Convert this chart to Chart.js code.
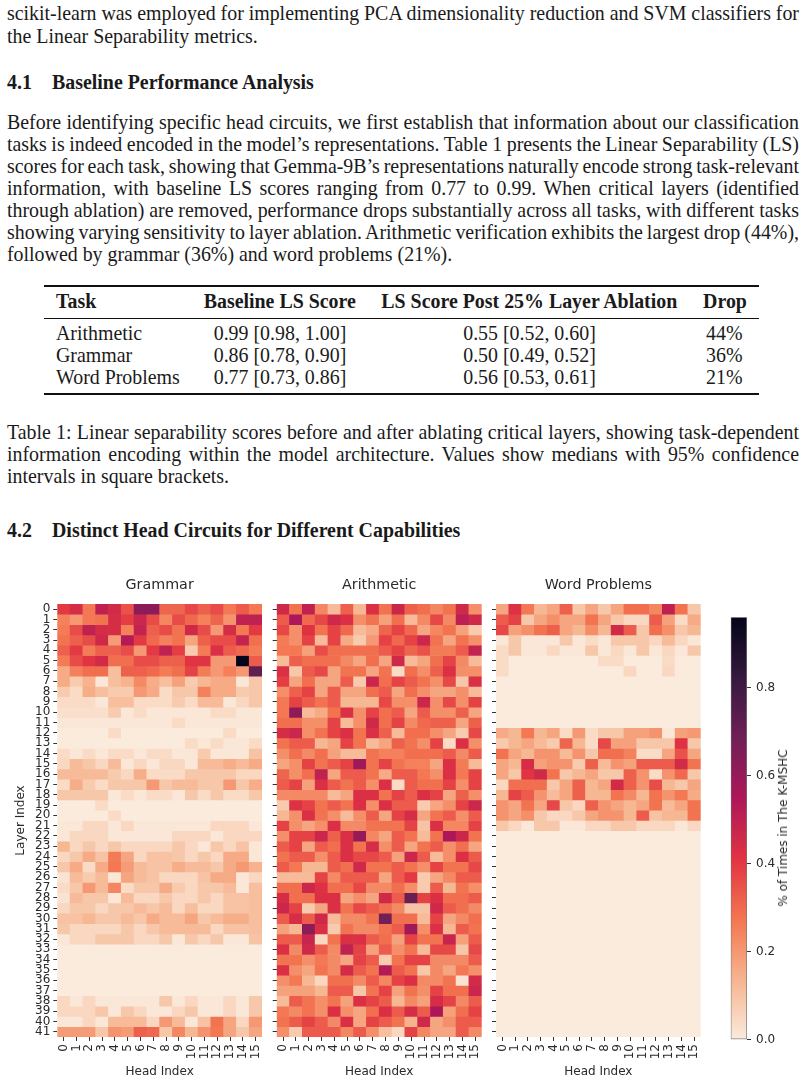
<!DOCTYPE html>
<html>
<head>
<meta charset="utf-8">
<title>Head circuits</title>
<script src="https://cdn.jsdelivr.net/npm/chart.js@4"></script>
<style>
  html, body { margin: 0; padding: 0; background: #fff; }
  body { position: relative; width: 807px; height: 1082px; overflow: hidden; font-family: "Liberation Serif", serif; font-size: 19.9px; color: #1a1a1a; }
  .t { position: absolute; white-space: pre; line-height: normal; }
  .b { font-weight: bold; }
  .rule { position: absolute; left: 44px; width: 715px; background: #111; }
  canvas { position: absolute; }
  #cbarTitle { position: absolute; left: 783px; top: 828px; width: 0; height: 0; }
  #cbarTitle span { position: absolute; transform: translate(-50%, -50%) rotate(-90deg); white-space: nowrap; font: 12px "DejaVu Sans", sans-serif; color: #2a2a2a; }
</style>
</head>
<body>

<div class="t j" data-b="20">scikit-learn was employed for implementing PCA dimensionality reduction and SVM classifiers for</div>
<div class="t" data-b="42.3">the Linear Separability metrics.</div>

<div class="t b" data-b="89">4.1</div>
<div class="t b" data-b="89" style="left:52px">Baseline Performance Analysis</div>

<div class="t j" data-b="129">Before identifying specific head circuits, we first establish that information about our classification</div>
<div class="t j" data-b="151">tasks is indeed encoded in the model’s representations. Table 1 presents the Linear Separability (LS)</div>
<div class="t j" data-b="173">scores for each task, showing that Gemma-9B’s representations naturally encode strong task-relevant</div>
<div class="t j" data-b="195">information, with baseline LS scores ranging from 0.77 to 0.99. When critical layers (identified</div>
<div class="t j" data-b="216.9">through ablation) are removed, performance drops substantially across all tasks, with different tasks</div>
<div class="t j" data-b="238.8">showing varying sensitivity to layer ablation. Arithmetic verification exhibits the largest drop (44%),</div>
<div class="t" data-b="260.7">followed by grammar (36%) and word problems (21%).</div>

<div class="rule" style="top:285px;height:2px"></div>
<div class="t b" data-b="307.6" style="left:56px">Task</div>
<div class="t b c" data-b="307.6" data-c="279.8">Baseline LS Score</div>
<div class="t b c" data-b="307.6" data-c="529.3">LS Score Post 25% Layer Ablation</div>
<div class="t b c" data-b="307.6" data-c="725">Drop</div>
<div class="rule" style="top:318px;height:1px"></div>

<div class="t" data-b="340" style="left:56px">Arithmetic</div>
<div class="t c" data-b="340" data-c="280">0.99 [0.98, 1.00]</div>
<div class="t c" data-b="340" data-c="529.5">0.55 [0.52, 0.60]</div>
<div class="t c" data-b="340" data-c="724.3">44%</div>
<div class="t" data-b="361.8" style="left:56px">Grammar</div>
<div class="t c" data-b="361.8" data-c="280">0.86 [0.78, 0.90]</div>
<div class="t c" data-b="361.8" data-c="529.5">0.50 [0.49, 0.52]</div>
<div class="t c" data-b="361.8" data-c="724.3">36%</div>
<div class="t" data-b="383.7" style="left:56px">Word Problems</div>
<div class="t c" data-b="383.7" data-c="280">0.77 [0.73, 0.86]</div>
<div class="t c" data-b="383.7" data-c="529.5">0.56 [0.53, 0.61]</div>
<div class="t c" data-b="383.7" data-c="724.3">21%</div>
<div class="rule" style="top:393px;height:2px"></div>

<div class="t j" data-b="439">Table 1: Linear separability scores before and after ablating critical layers, showing task-dependent</div>
<div class="t j" data-b="461">information encoding within the model architecture. Values show medians with 95% confidence</div>
<div class="t" data-b="483">intervals in square brackets.</div>

<div class="t b" data-b="537">4.2</div>
<div class="t b" data-b="537" style="left:52px">Distinct Head Circuits for Different Capabilities</div>

<canvas id="grammarChart" style="left:0;top:570px"></canvas>
<canvas id="arithmeticChart" style="left:270px;top:570px"></canvas>
<canvas id="wordChart" style="left:490px;top:570px"></canvas>
<canvas id="cbarChart" style="left:720px;top:610px"></canvas>
<div id="cbarTitle"><span>% of Times in The K-MSHC</span></div>

<script>
const headLabels = ['0','1','2','3','4','5','6','7','8','9','10','11','12','13','14','15'];
const layerLabels = ['0','1','2','3','4','5','6','7','8','9','10','11','12','13','14','15','16','17','18','19','20',
  '21','22','23','24','25','26','27','28','29','30','31','32','33','34','35','36','37','38','39','40','41'];
const cbarTicks = [0, 0.2, 0.4, 0.6, 0.8];
const cbarMax = 0.96;

// rocket colormap, dark to light
const rocketStops = ['#03051a','#35193e','#701f57','#ad1759','#e13342','#f37651','#f6b48f','#faebdd'];

// values, one row per layer
const grammarValues = [
  [.40,.44,.27,.50,.45,.35,.62,.62,.31,.31,.37,.32,.36,.27,.33,.27],
  [.25,.20,.27,.28,.44,.39,.47,.36,.24,.36,.30,.25,.31,.21,.50,.50],
  [.26,.36,.50,.44,.44,.25,.49,.32,.36,.28,.46,.36,.20,.44,.27,.40],
  [.28,.32,.36,.46,.19,.53,.40,.30,.25,.28,.17,.32,.36,.36,.49,.29],
  [.32,.40,.26,.32,.32,.36,.20,.40,.50,.39,.08,.26,.43,.33,.30,.26],
  [.26,.36,.41,.45,.29,.29,.36,.36,.32,.32,.41,.41,.20,.20,.96,.33],
  [.16,.25,.29,.29,.11,.32,.32,.30,.26,.29,.38,.26,.20,.25,.20,.72],
  [.16,.08,.14,.01,.11,.14,.23,.15,.11,.18,.08,.13,.16,.16,.01,.09],
  [.08,.04,.15,.11,.08,.08,.20,.16,.04,.09,.09,.25,.16,.16,.08,.09],
  [.04,.04,.04,.01,.11,.11,.04,.04,.04,.08,.04,.12,.12,.01,.05,.09],
  [.03,.03,.03,.03,.08,.01,.04,.01,.01,.01,.01,.01,.04,.04,.01,.01],
  [.01,.01,.01,.01,.01,.01,.01,.01,.01,.04,.01,.01,.01,.01,.01,.01],
  [0,0,0,0,.04,0,0,0,0,0,0,0,0,.04,0,0],
  [0,0,0,0,0,0,0,0,0,0,.04,.01,.04,.01,.01,.04],
  [.04,.01,.04,.01,.04,.04,.01,.04,.04,.01,.01,.08,.01,.01,.01,.10],
  [.05,.12,.09,.05,.12,.01,.05,.01,.05,.05,.01,.12,.12,.15,.12,.16],
  [.12,.12,.12,.12,.08,.05,.15,.04,.04,.04,.09,.09,.09,.09,.05,.05],
  [.04,.15,.08,.04,.09,.09,.09,.20,.09,.12,.12,.09,.09,.20,.09,.15],
  [.09,.09,.09,.09,.01,.04,.01,.04,.04,.01,.09,.04,.09,.04,.04,.09],
  [0,0,0,.04,0,0,0,0,0,0,0,0,0,0,0,0],
  [0,0,0,0,.04,0,0,0,0,0,0,0,0,0,0,0],
  [.01,.01,.05,.05,.01,.05,.01,.01,.01,.01,.01,.01,.05,.05,.05,.01],
  [.01,.05,.05,.05,.01,.01,.01,.01,.01,.05,.05,.05,.01,.05,.05,.05],
  [.13,.05,.09,.05,.09,.05,.05,.05,.05,.09,.05,.01,.09,.05,.10,.01],
  [.05,.09,.16,.10,.26,.17,.05,.10,.10,.09,.05,.09,.05,.16,.16,.01],
  [.09,.16,.04,.16,.27,.19,.12,.10,.10,.15,.12,.12,.09,.16,.20,.14],
  [.02,.12,.08,.12,.01,.17,.12,.10,.05,.05,.05,.10,.16,.16,.01,.05],
  [.04,.09,.20,.12,.24,.04,.09,.09,.16,.08,.05,.09,.09,.12,.01,.11],
  [.02,.12,.09,.09,.01,.12,.05,.05,.09,.05,.05,.09,.05,.10,.10,.11],
  [.05,.09,.09,.05,.09,.09,.12,.09,.12,.05,.11,.05,.05,.10,.10,.11],
  [.10,.10,.13,.09,.09,.12,.09,.16,.12,.12,.17,.09,.12,.15,.15,.11],
  [.09,.05,.05,.05,.05,.09,.05,.09,.12,.12,.12,.12,.05,.10,.10,.11],
  [.01,.05,.05,.09,.09,.09,.05,.05,.09,.01,.09,.05,.09,.01,.01,.10],
  [0,0,0,0,0,0,0,0,0,0,0,0,0,0,0,0],
  [0,0,0,0,0,0,0,0,0,0,0,0,0,0,0,0],
  [0,0,0,0,0,0,0,0,0,0,0,0,0,0,0,0],
  [0,0,0,0,0,0,0,0,0,0,0,0,0,0,0,0],
  [0,0,0,0,0,0,0,0,0,0,0,0,0,0,0,0],
  [.05,.01,.05,.01,.01,.01,.01,.01,.09,.01,.05,.01,.01,.05,.01,.09],
  [.05,.05,.05,.09,.01,.09,.05,.01,.01,.05,.09,.01,.01,.05,.01,.09],
  [.01,.01,.05,.01,.12,.12,.12,.05,.20,.12,.01,.10,.28,.17,.05,.20],
  [.19,.19,.19,.09,.21,.19,.32,.30,.09,.24,.13,.21,.27,.17,.09,.17]
];

const arithmeticValues = [
  [.46,.28,.50,.24,.12,.32,.13,.43,.28,.47,.32,.29,.24,.28,.46,.22],
  [.33,.55,.30,.37,.46,.43,.22,.28,.18,.29,.12,.23,.37,.23,.51,.46],
  [.37,.22,.42,.28,.38,.30,.12,.16,.31,.38,.30,.17,.24,.28,.18,.08],
  [.26,.22,.38,.12,.38,.16,.08,.20,.38,.30,.38,.47,.28,.17,.28,.22],
  [.27,.27,.18,.36,.29,.29,.29,.29,.33,.38,.31,.35,.26,.26,.33,.49],
  [.12,.32,.29,.29,.29,.23,.17,.29,.17,.46,.12,.17,.29,.38,.23,.12],
  [.43,.09,.33,.37,.17,.28,.28,.17,.28,.04,.29,.22,.32,.43,.22,.22],
  [.39,.17,.29,.17,.17,.33,.08,.47,.29,.38,.33,.28,.22,.37,.09,.43],
  [.22,.32,.38,.17,.33,.17,.17,.29,.33,.17,.29,.22,.17,.17,.22,.12],
  [.27,.38,.33,.28,.33,.13,.13,.13,.37,.22,.22,.47,.22,.37,.22,.38],
  [.27,.62,.12,.16,.28,.43,.22,.38,.29,.33,.17,.33,.22,.22,.32,.17],
  [.29,.29,.22,.22,.38,.12,.22,.46,.29,.38,.23,.30,.32,.32,.17,.32],
  [.44,.47,.22,.28,.38,.43,.28,.43,.32,.12,.29,.29,.22,.17,.08,.37],
  [.28,.33,.33,.13,.17,.38,.28,.12,.17,.32,.28,.22,.38,.04,.43,.22],
  [.22,.29,.23,.29,.18,.12,.12,.28,.25,.25,.29,.29,.29,.33,.23,.33],
  [.17,.22,.38,.28,.33,.38,.58,.28,.38,.28,.25,.25,.17,.43,.26,.12],
  [.31,.22,.29,.50,.17,.33,.33,.28,.16,.33,.33,.27,.22,.43,.27,.38],
  [.33,.38,.18,.43,.33,.28,.33,.22,.43,.04,.33,.29,.29,.38,.22,.38],
  [.23,.23,.23,.23,.12,.17,.43,.43,.28,.38,.33,.43,.38,.17,.32,.22],
  [.08,.42,.38,.28,.33,.28,.43,.22,.43,.33,.33,.08,.17,.22,.38,.47],
  [.13,.22,.43,.28,.22,.12,.22,.33,.17,.38,.44,.17,.28,.33,.22,.33],
  [.38,.22,.17,.22,.43,.23,.23,.28,.28,.28,.38,.10,.43,.24,.24,.38],
  [.22,.38,.38,.47,.32,.43,.60,.24,.17,.33,.28,.12,.28,.55,.47,.28],
  [.33,.38,.17,.33,.29,.43,.28,.44,.22,.33,.17,.28,.33,.22,.29,.17],
  [.28,.33,.33,.22,.33,.43,.37,.37,.33,.18,.47,.33,.12,.22,.43,.33],
  [.33,.27,.13,.13,.33,.29,.46,.28,.28,.33,.28,.22,.38,.28,.28,.37],
  [.12,.12,.12,.38,.23,.33,.33,.33,.17,.33,.40,.08,.17,.23,.33,.33],
  [.29,.29,.47,.42,.29,.29,.37,.23,.23,.29,.22,.08,.33,.13,.28,.22],
  [.44,.29,.29,.43,.43,.17,.22,.17,.46,.33,.70,.38,.43,.29,.29,.33],
  [.47,.38,.08,.17,.43,.28,.37,.33,.29,.23,.10,.10,.46,.33,.29,.23],
  [.33,.44,.33,.46,.12,.23,.23,.28,.68,.29,.29,.12,.38,.17,.23,.29],
  [.18,.13,.62,.43,.08,.28,.23,.23,.28,.33,.58,.22,.43,.13,.33,.28],
  [.33,.33,.48,.05,.28,.43,.43,.33,.29,.18,.38,.28,.28,.48,.18,.33],
  [.43,.23,.46,.33,.23,.50,.38,.18,.33,.22,.28,.12,.37,.37,.09,.37],
  [.28,.28,.22,.27,.23,.17,.38,.33,.08,.28,.38,.38,.23,.23,.23,.33],
  [.43,.22,.17,.28,.23,.45,.33,.28,.53,.33,.28,.09,.23,.17,.27,.22],
  [.22,.27,.13,.05,.29,.29,.23,.33,.24,.38,.43,.23,.23,.28,.02,.45],
  [.18,.18,.18,.13,.33,.33,.09,.28,.38,.18,.28,.22,.38,.29,.29,.47],
  [.12,.33,.28,.22,.28,.18,.43,.38,.33,.13,.23,.18,.44,.38,.23,.33],
  [.27,.23,.28,.22,.43,.22,.17,.29,.43,.33,.44,.33,.55,.18,.29,.38],
  [.28,.33,.38,.33,.23,.43,.17,.38,.33,.28,.14,.46,.17,.22,.33,.33],
  [.22,.08,.33,.33,.33,.24,.33,.22,.11,.05,.38,.24,.17,.17,.33,.23]
];

const wordProblemValues = [
  [.17,.42,.27,.13,.17,.32,.09,.17,.09,.17,.29,.29,.24,.50,.28,.09],
  [.33,.38,.09,.17,.22,.17,.17,.28,.17,.09,.05,.05,.33,.18,.04,.16],
  [.37,.18,.22,.28,.32,.17,.13,.22,.13,.46,.33,.09,.29,.22,.09,.13],
  [.01,.09,.01,.01,.01,.09,.01,.04,.01,.09,.09,.09,.05,.12,.05,.01],
  [.04,.09,.01,.01,.05,.01,.01,.09,.01,.05,.01,.09,.01,.05,.01,.09],
  [.04,0,0,0,0,0,0,0,.04,.04,0,0,0,.04,0,0],
  [.04,0,0,0,0,0,0,0,0,0,.05,0,0,.05,0,0],
  [0,0,0,0,0,0,0,0,0,0,0,0,0,0,0,0],
  [0,0,0,0,0,0,0,0,0,0,0,0,0,0,0,0],
  [0,0,0,0,0,0,0,0,0,0,0,0,0,0,0,0],
  [0,0,0,0,0,0,0,0,0,0,0,0,0,0,0,0],
  [0,0,0,0,0,0,0,0,0,0,0,0,0,0,0,0],
  [.16,.13,.27,.13,.17,.04,.20,.04,.09,.09,.18,.18,.21,.01,.18,.20],
  [.08,.13,.17,.12,.08,.31,.13,.04,.37,.18,.18,.09,.09,.09,.42,.09],
  [.28,.17,.13,.21,.21,.12,.21,.09,.29,.29,.25,.04,.04,.17,.35,.17],
  [.17,.13,.44,.18,.21,.21,.08,.32,.12,.21,.18,.33,.33,.33,.45,.28],
  [.17,.09,.41,.46,.28,.09,.13,.17,.09,.09,.32,.21,.04,.21,.30,.09],
  [.05,.29,.29,.29,.09,.17,.32,.13,.17,.45,.32,.21,.36,.13,.09,.17],
  [.13,.38,.33,.21,.12,.17,.32,.13,.13,.28,.23,.13,.28,.21,.27,.16],
  [.21,.17,.28,.17,.37,.09,.05,.32,.21,.17,.13,.17,.28,.12,.17,.28],
  [.21,.17,.22,.09,.05,.05,.09,.17,.21,.21,.13,.33,.10,.13,.13,.28],
  [.09,.05,.01,.09,.09,.01,.01,.05,.05,.09,.09,.05,.05,.05,.01,.05],
  [0,0,0,0,0,0,0,0,0,0,0,0,0,0,0,0],
  [0,0,0,0,0,0,0,0,0,0,0,0,0,0,0,0],
  [0,0,0,0,0,0,0,0,0,0,0,0,0,0,0,0],
  [0,0,0,0,0,0,0,0,0,0,0,0,0,0,0,0],
  [0,0,0,0,0,0,0,0,0,0,0,0,0,0,0,0],
  [0,0,0,0,0,0,0,0,0,0,0,0,0,0,0,0],
  [0,0,0,0,0,0,0,0,0,0,0,0,0,0,0,0],
  [0,0,0,0,0,0,0,0,0,0,0,0,0,0,0,0],
  [0,0,0,0,0,0,0,0,0,0,0,0,0,0,0,0],
  [0,0,0,0,0,0,0,0,0,0,0,0,0,0,0,0],
  [0,0,0,0,0,0,0,0,0,0,0,0,0,0,0,0],
  [0,0,0,0,0,0,0,0,0,0,0,0,0,0,0,0],
  [0,0,0,0,0,0,0,0,0,0,0,0,0,0,0,0],
  [0,0,0,0,0,0,0,0,0,0,0,0,0,0,0,0],
  [0,0,0,0,0,0,0,0,0,0,0,0,0,0,0,0],
  [0,0,0,0,0,0,0,0,0,0,0,0,0,0,0,0],
  [0,0,0,0,0,0,0,0,0,0,0,0,0,0,0,0],
  [0,0,0,0,0,0,0,0,0,0,0,0,0,0,0,0],
  [0,0,0,0,0,0,0,0,0,0,0,0,0,0,0,0],
  [0,0,0,0,0,0,0,0,0,0,0,0,0,0,0,0]
];

const textColor = '#2a2a2a';
const fontFamily = '"DejaVu Sans", sans-serif';

// text lines: place by baseline, stretch the justified ones with word spacing
function placeText() {
  const fullWidth = 792;
  document.querySelectorAll('.t').forEach(function (el) {
    const size = parseFloat(getComputedStyle(el).fontSize);
    el.style.top = (parseFloat(el.dataset.b) - 0.891 * size) + 'px';
    if (!el.style.left) el.style.left = '7px';
    if (el.classList.contains('j')) {
      const spaces = el.textContent.split(' ').length - 1;
      const w = el.getBoundingClientRect().width;
      el.style.wordSpacing = ((fullWidth - w) / spaces) + 'px';
    }
    if (el.classList.contains('c')) {
      el.style.left = (parseFloat(el.dataset.c) - el.getBoundingClientRect().width / 2) + 'px';
    }
  });
}

function hexToRgb(hex) {
  return [1, 3, 5].map(i => parseInt(hex.slice(i, i + 2), 16));
}

// high value = dark end of the colormap
function valueColor(v) {
  const t = Math.min(1, Math.max(0, 1 - v / cbarMax)) * (rocketStops.length - 1);
  const i = Math.min(Math.floor(t), rocketStops.length - 2);
  const a = hexToRgb(rocketStops[i]);
  const b = hexToRgb(rocketStops[i + 1]);
  const f = t - i;
  const c = a.map((x, k) => Math.round(x + (b[k] - x) * f));
  return 'rgb(' + c.join(',') + ')';
}

function drawHeatmap(id, title, rows, width, yAxisWidth, rightPad, showLayerLabels) {
  const canvas = document.getElementById(id);
  canvas.width = width;
  canvas.height = 510;

  // one dataset per layer, each cell a floating bar over [row, row + 1]
  const datasets = rows.map(function (vals, r) {
    return {
      data: vals.map(() => [r, r + 1]),
      backgroundColor: vals.map(valueColor),
      borderWidth: 0,
      barPercentage: 1,
      categoryPercentage: 1,
      grouped: false
    };
  });

  return new Chart(canvas, {
    type: 'bar',
    data: { labels: headLabels, datasets: datasets },
    options: {
      responsive: false,
      animation: false,
      layout: { padding: { right: rightPad } },
      plugins: {
        legend: { display: false },
        tooltip: { enabled: false },
        title: {
          display: true,
          text: title,
          fullSize: false,
          color: textColor,
          font: { family: fontFamily, size: 14.3, weight: 'normal' },
          padding: { top: 6.5, bottom: 10.3 }
        }
      },
      scales: {
        x: {
          type: 'category',
          grid: { offset: false, drawOnChartArea: false, tickLength: 4, tickColor: '#333', tickWidth: 1 },
          border: { display: false },
          ticks: {
            autoSkip: false, minRotation: 90, maxRotation: 90, padding: 3,
            color: textColor, font: { family: fontFamily, size: 12 }
          },
          title: {
            display: true, text: 'Head Index', color: textColor,
            font: { family: fontFamily, size: 12 }, padding: { top: 0, bottom: 1 }
          },
          afterFit: function (s) { s.height = 43; s.paddingLeft = 0; s.paddingRight = 0; }
        },
        y: {
          type: 'linear',
          min: 0,
          max: rows.length,
          reverse: true,
          grid: { drawOnChartArea: false, tickLength: 4, tickColor: '#333', tickWidth: 1 },
          border: { display: false },
          afterBuildTicks: function (s) { s.ticks = layerLabels.map((l, i) => ({ value: i + 0.5 })); },
          ticks: {
            display: showLayerLabels,
            autoSkip: false,
            padding: 3,
            color: textColor,
            font: { family: fontFamily, size: 12 },
            callback: v => layerLabels[v - 0.5]
          },
          title: {
            display: showLayerLabels, text: 'Layer Index', color: textColor,
            font: { family: fontFamily, size: 12 }, padding: { top: 14, bottom: 0 }
          },
          afterFit: function (s) { s.width = yAxisWidth; s.paddingTop = 0; s.paddingBottom = 0; }
        }
      }
    }
  });
}

function drawColorbar() {
  const canvas = document.getElementById('cbarChart');
  canvas.width = 87;
  canvas.height = 435;

  new Chart(canvas, {
    type: 'bar',
    data: {
      labels: [''],
      datasets: [{
        data: [[0, cbarMax]],
        barPercentage: 1,
        categoryPercentage: 1,
        borderWidth: 1,
        borderColor: '#777',
        borderSkipped: false,
        backgroundColor: function (ctx) {
          const area = ctx.chart.chartArea;
          if (!area) return '#faebdd';
          const g = ctx.chart.ctx.createLinearGradient(0, area.top, 0, area.bottom);
          rocketStops.forEach((c, i) => g.addColorStop(i / (rocketStops.length - 1), c));
          return g;
        }
      }]
    },
    options: {
      responsive: false,
      animation: false,
      layout: { padding: { left: 10.7, top: 7.2, bottom: 5.3 } },
      plugins: { legend: { display: false }, tooltip: { enabled: false } },
      scales: {
        x: { display: false },
        y: {
          position: 'right',
          min: 0,
          max: cbarMax,
          grid: { drawOnChartArea: false, tickLength: 4, tickColor: '#333' },
          border: { display: false },
          afterBuildTicks: function (s) { s.ticks = cbarTicks.map(v => ({ value: v })); },
          ticks: {
            padding: 5,
            color: textColor,
            font: { family: fontFamily, size: 12 },
            callback: v => v.toFixed(1)
          },
          afterFit: function (s) { s.width = 60; s.paddingTop = 0; s.paddingBottom = 0; }
        }
      }
    }
  });
}

placeText();
drawHeatmap('grammarChart', 'Grammar', grammarValues, 262, 57.3, 0, true);
drawHeatmap('arithmeticChart', 'Arithmetic', arithmeticValues, 212, 6.7, 0.3, false);
drawHeatmap('wordChart', 'Word Problems', wordProblemValues, 211, 6, 0.3, false);
drawColorbar();
</script>
</body>
</html>
